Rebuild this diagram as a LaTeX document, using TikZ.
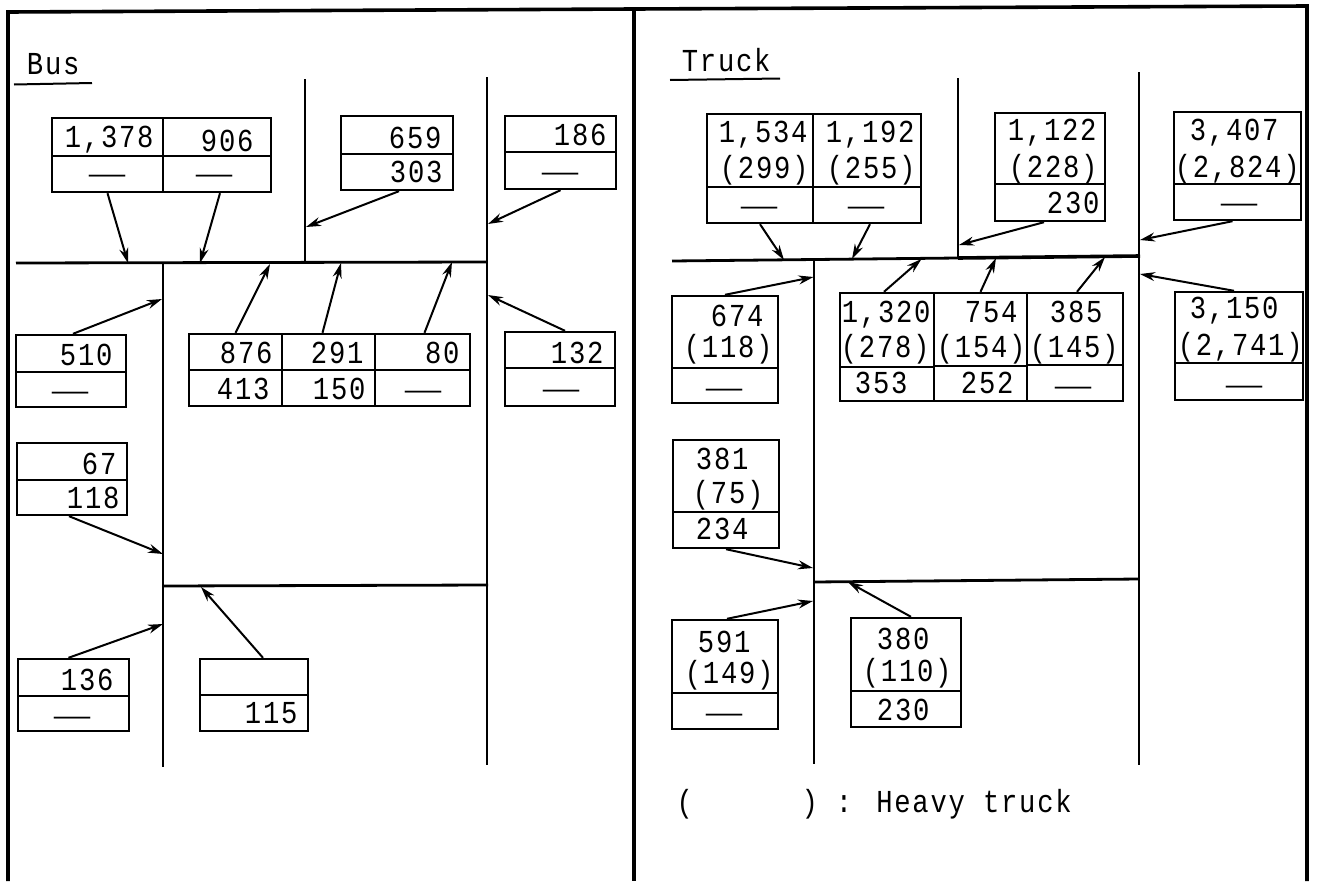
\documentclass[tikz,border=0pt]{standalone}
\usepackage{fontspec}
\setmainfont{Liberation Serif}
\newfontfamily\monof[FakeStretch=0.85,LetterSpace=5.5]{Liberation Mono}
\newfontfamily\dashf{Liberation Serif}
\usetikzlibrary{arrows.meta,fit}
\tikzset{
  frameline/.style={line width=3.6pt,black},
  street/.style={line width=2.8pt,black},
  cellbox/.style={draw=black,line width=2.4pt,inner sep=0pt,rectangle},
  lbl/.style={anchor=base,yshift=-10.5pt,xshift=-0.8pt,inner sep=0pt,text=black,font=\fontsize{32}{32}\selectfont\monof},
  flow/.style={line width=2pt,black,-{Stealth[length=15pt,width=9pt]},shorten >=0pt},
  under/.style={line width=2pt,black}
}
\newcommand{\dashmark}{{\fontsize{36}{36}\selectfont\dashf —}}
% name, x1, y1, x2, y2, text x, text y, text
\newcommand{\mycell}[8]{%
  \node[cellbox,fit={(#2,#3)(#4,#5)}] (#1) {};
  \node[lbl] (#1t) at (#6,#7) {#8};
}
\newcommand{\mylb}[4]{\node[lbl] (#1) at (#2,#3) {#4};}
\begin{document}
\begin{tikzpicture}[x=1pt,y=-1pt]
\useasboundingbox (0,0) rectangle (1317,881);
\fill[white] (0,0) rectangle (1317,881);
% frame
\draw[frameline] (8,881) -- (8,12) -- (634,9) -- (1307,6) -- (1307,881);
\draw[frameline] (634,9) -- (634,881);
% Bus streets
\draw[street] (305,79) -- (305,263);
\draw[street] (487,77) -- (487,765);
\draw[street] (163,263) -- (163,767);
\draw[street] (16,263) -- (487,262);
\draw[street] (163,586) -- (488,585);
% Truck streets
\draw[street] (958,78) -- (958,258);
\draw[street] (1139,72) -- (1139,765);
\draw[street] (814,260) -- (814,764);
\draw[street] (672,261) -- (958,258);
\draw[line width=3.6pt,black] (958,258) -- (1140,256);
\draw[street] (814,582) -- (1139,579);
% titles
\node[lbl] (bustitle) at (54,64) {Bus};
\draw[under] (14,84.5) -- (92,83);
\node[lbl] (trucktitle) at (727,61) {Truck};
\draw[under] (670,80) -- (780,78.5);
% Bus cells
\mycell{ba}{52}{118}{163}{156}{110}{137}{1,378}
\mycell{bb}{52}{156}{163}{192}{108}{174}{\dashmark}
\mycell{bc}{163}{118}{271}{156}{228}{141}{906}
\mycell{bd}{163}{156}{271}{192}{215}{174}{\dashmark}
\mycell{be}{341}{116}{453}{154}{416}{138}{659}
\mycell{bf}{341}{154}{453}{190}{417}{172}{303}
\mycell{bg}{505}{116}{616}{152}{581}{135}{186}
\mycell{bh}{505}{152}{616}{189}{561}{172}{\dashmark}
\mycell{bi}{16}{335}{126}{372}{87}{355}{510}
\mycell{bj}{16}{372}{126}{407}{71}{391}{\dashmark}
\mycell{bk}{189}{334}{282}{370}{247}{353}{876}
\mycell{bl}{189}{370}{282}{406}{244}{389}{413}
\mycell{bm}{282}{334}{375}{370}{338}{353}{291}
\mycell{bn}{282}{370}{375}{406}{340}{389}{150}
\mycell{bo}{375}{334}{470}{370}{443}{353}{80}
\mycell{bp}{375}{370}{470}{406}{424}{390}{\dashmark}
\mycell{bq}{505}{332}{615}{368}{578}{353}{132}
\mycell{br}{505}{368}{615}{406}{562}{389}{\dashmark}
\mycell{bs}{17}{443}{127}{480}{100}{464}{67}
\mycell{bt}{17}{480}{127}{515}{94}{498}{118}
\mycell{bu}{18}{659}{129}{696}{88}{680}{136}
\mycell{bv}{18}{696}{129}{731}{73}{716}{\dashmark}
\node[cellbox,fit={(200,659)(308,695)}] (bw) {};
\mycell{bx}{200}{695}{308}{731}{272}{713}{115}
% Truck cells
\mycell{ta}{707}{114}{813}{187}{764}{132}{1,534}
\mylb{ta2}{765}{168}{(299)}
\mycell{tb}{707}{187}{813}{223}{760}{206}{\dashmark}
\mycell{tc}{813}{114}{921}{187}{871}{132}{1,192}
\mylb{tc2}{872}{168}{(255)}
\mycell{td}{813}{187}{921}{223}{867}{206}{\dashmark}
\mycell{te}{995}{113}{1105}{184}{1053}{130}{1,122}
\mylb{te2}{1054}{167}{(228)}
\mycell{tf}{995}{184}{1105}{221}{1074}{203}{230}
\mycell{tg}{1174}{112}{1301}{184}{1235}{130}{3,407}
\mylb{tg2}{1238}{167}{(2,824)}
\mycell{th}{1174}{184}{1301}{220}{1240}{203}{\dashmark}
\mycell{ti}{672}{296}{778}{368}{738}{316}{674}
\mylb{ti2}{729}{347}{(118)}
\mycell{tj}{672}{368}{778}{403}{725}{388}{\dashmark}
\mycell{tk}{840}{293}{934}{367}{887}{312}{1,320}
\mylb{tk2}{886}{347}{(278)}
\mycell{tl}{840}{367}{934}{401}{882}{383}{353}
\mycell{tm}{934}{293}{1027}{366}{992}{312}{754}
\mylb{tm2}{982}{347}{(154)}
\mycell{tn}{934}{366}{1027}{401}{988}{383}{252}
\mycell{to}{1027}{293}{1123}{365}{1077}{312}{385}
\mylb{to2}{1075}{347}{(145)}
\mycell{tp}{1027}{365}{1123}{401}{1074}{386}{\dashmark}
\mycell{tq}{1175}{292}{1303}{363}{1235}{308}{3,150}
\mylb{tq2}{1241}{345}{(2,741)}
\mycell{tr}{1175}{363}{1303}{400}{1245}{385}{\dashmark}
\mycell{ts}{673}{440}{779}{512}{723}{459}{381}
\mylb{ts2}{729}{493}{(75)}
\mycell{tt}{673}{512}{779}{548}{723}{529}{234}
\mycell{tu}{672}{620}{778}{693}{725}{642}{591}
\mylb{tu2}{730}{673}{(149)}
\mycell{tv}{672}{693}{778}{729}{725}{713}{\dashmark}
\mycell{tw}{851}{618}{961}{691}{904}{639}{380}
\mylb{tw2}{908}{671}{(110)}
\mycell{tx}{851}{691}{961}{727}{904}{710}{230}
\node[lbl] (legend) at (875,802) {(~~~~~~) : Heavy truck};
% arrow targets
\coordinate (e1) at (128,263);
\coordinate (e2) at (200,263);
\coordinate (e3) at (306,227);
\coordinate (e4) at (488,224);
\coordinate (e5) at (162,299);
\coordinate (e6) at (270,264);
\coordinate (e7) at (341,263);
\coordinate (e8) at (452,262);
\coordinate (e9) at (488,295);
\coordinate (e10) at (163,554);
\coordinate (e11) at (163,624);
\coordinate (e12) at (201,587);
\coordinate (f1) at (784,260);
\coordinate (f2) at (852,259);
\coordinate (f3) at (959,245);
\coordinate (f4) at (1140,240);
\coordinate (f5) at (813.5,277);
\coordinate (f6) at (921.5,259);
\coordinate (f7) at (996,258);
\coordinate (f8) at (1105,257);
\coordinate (f9) at (1140,274);
\coordinate (f10) at (813,568);
\coordinate (f11) at (813,601);
\coordinate (f12) at (848,582);
% Bus arrows
\draw[flow] (bb.south) -- (e1);
\draw[flow] ([xshift=3pt]bd.south) -- (e2);
\draw[flow] ([xshift=2pt]bf.south) -- (e3);
\draw[flow] (bh.south) -- (e4);
\draw[flow] ([xshift=2pt]bi.north) -- (e5);
\draw[flow] (bk.north) -- (e6);
\draw[flow] ([xshift=-6pt]bm.north) -- (e7);
\draw[flow] ([xshift=2pt]bo.north) -- (e8);
\draw[flow] ([xshift=5pt]bq.north) -- (e9);
\draw[flow] ([xshift=-3pt]bt.south) -- (e10);
\draw[flow] ([xshift=-5pt]bu.north) -- (e11);
\draw[flow] ([xshift=9pt]bw.north) -- (e12);
% Truck arrows
\draw[flow] (tb.south) -- (f1);
\draw[flow] ([xshift=3pt]td.south) -- (f2);
\draw[flow] ([xshift=-6pt]tf.south) -- (f3);
\draw[flow] ([xshift=-5pt]th.south) -- (f4);
\draw[flow] (ti.north) -- (f5);
\draw[flow] ([xshift=-3pt]tk.north) -- (f6);
\draw[flow] (tm.north) -- (f7);
\draw[flow] ([xshift=2pt]to.north) -- (f8);
\draw[flow] ([xshift=-5pt]tq.north) -- (f9);
\draw[flow] (tt.south) -- (f10);
\draw[flow] ([xshift=2pt]tu.north) -- (f11);
\draw[flow] ([xshift=5pt]tw.north) -- (f12);
\end{tikzpicture}
\end{document}
